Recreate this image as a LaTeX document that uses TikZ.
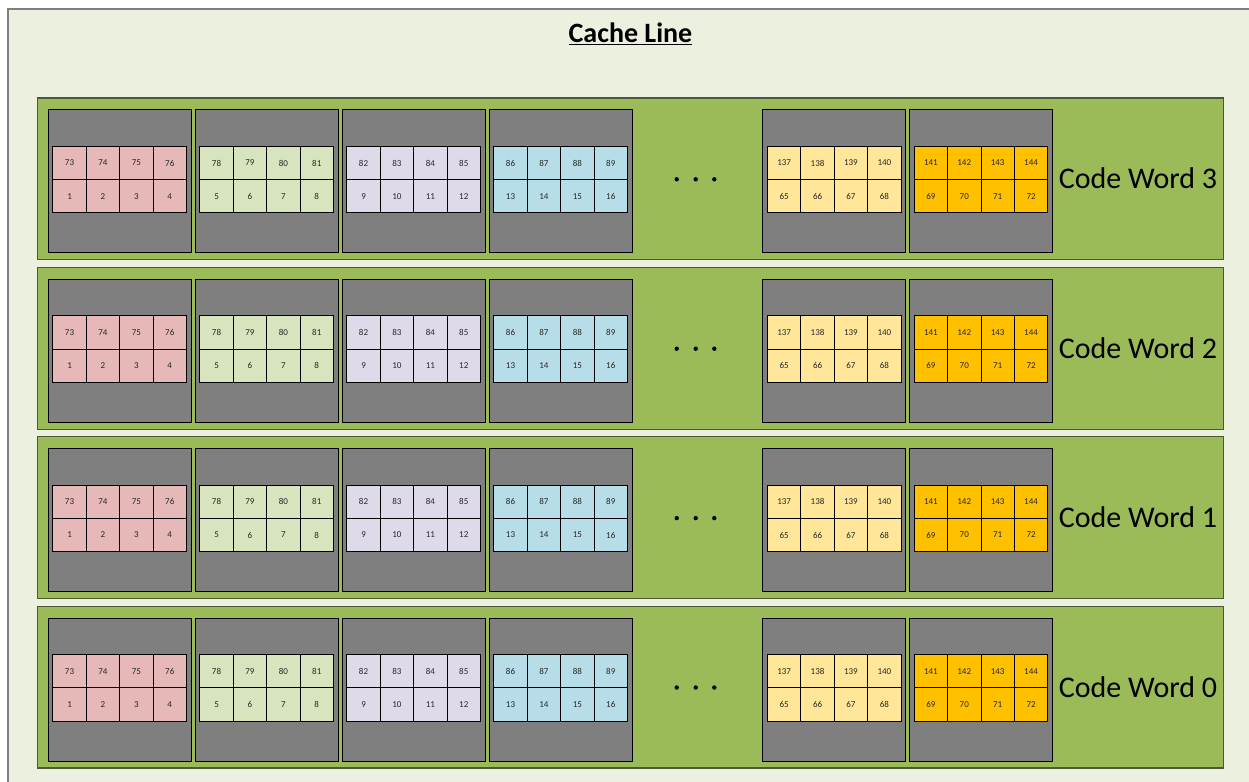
\documentclass[tikz,border=0pt]{standalone}
\usepackage{fontspec}
\setmainfont{Carlito}
\definecolor{bg}{HTML}{EBF1DE}
\definecolor{framegray}{HTML}{7F7F7F}
\definecolor{rowgreen}{HTML}{9BBB59}
\definecolor{rowedge}{HTML}{4A5A38}
\definecolor{chipgray}{HTML}{7F7F7F}
\definecolor{c1}{HTML}{E6B9B8}
\definecolor{c2}{HTML}{D7E4BD}
\definecolor{c3}{HTML}{DFDAE9}
\definecolor{c4}{HTML}{B7DEE8}
\definecolor{c5}{HTML}{FFE699}
\definecolor{c6}{HTML}{FFC000}
\definecolor{numtext}{HTML}{262626}
\begin{document}
\begin{tikzpicture}[x=1pt,y=-1pt,
  rowbox/.style={draw=rowedge, line width=1.1pt, fill=rowgreen, inner sep=0pt, minimum width=1185.7pt, minimum height=161.7pt, anchor=north west},
  chipbox/.style={draw=black, line width=1pt, fill=chipgray, inner sep=0pt, minimum width=143pt, minimum height=143pt, anchor=north west},
  cellbox/.style={draw=black, line width=0.9pt, inner sep=0pt, minimum width=33.4pt, minimum height=33.2pt, anchor=north west, text=numtext, font=\fontsize{9}{10}\selectfont},
  cwlabel/.style={font=\fontsize{30}{32}\selectfont, text=black, inner sep=0pt},
  dotnode/.style={circle, fill=black, inner sep=0pt, minimum size=4.4pt},
  titlestyle/.style={font=\bfseries\fontsize{28}{30}\selectfont, text=black, inner sep=0pt}
]
\useasboundingbox (0,0) rectangle (1249,781);
\fill[bg] (8,9) rectangle (1262,795);
\draw[framegray, line width=1.2pt] (8,795) -- (8,9) -- (1262,9);
\node[titlestyle] (title) at (630.5,34) {\underline{Cache Line}};
\foreach \r/\k in {3/0,2/1,1/2,0/3} {
  \pgfmathsetmacro\yt{97.5+169.4*\k}
  \node[rowbox] (row\r) at (37.3,\yt) {};
  \foreach \c/\xl/\tb/\bb/\col in {1/47.7/72/0/c1, 2/194.7/77/4/c2, 3/341.7/81/8/c3, 4/488.7/85/12/c4, 5/762.3/136/64/c5, 6/909/140/68/c6} {
    \node[chipbox] (chip\r-\c) at (\xl,\yt+11.8) {};
    \foreach \i in {1,...,4} {
      \pgfmathtruncatemacro\nt{\tb+\i}
      \pgfmathtruncatemacro\nb{\bb+\i}
      \node[cellbox, fill=\col] (ct\r-\c-\i) at ({\xl+4.7+33.4*(\i-1)},{\yt+48.5}) {\nt};
      \node[cellbox, fill=\col] (cb\r-\c-\i) at ({\xl+4.7+33.4*(\i-1)},{\yt+81.7}) {\nb};
    }
  }
  \node[dotnode] (dota\r) at (676.7,\yt+81.8) {};
  \node[dotnode] (dotb\r) at (695.7,\yt+81.8) {};
  \node[dotnode] (dotc\r) at (714.3,\yt+81.8) {};
  \node[cwlabel] (cw\r) at (1138,\yt+81) {Code Word \r};
}
\end{tikzpicture}
\end{document}
